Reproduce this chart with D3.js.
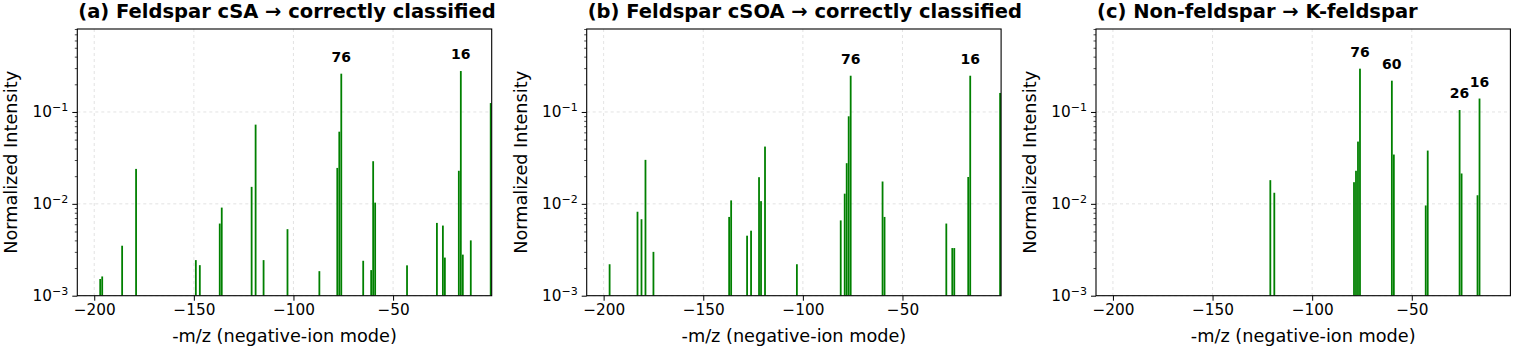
<!DOCTYPE html>
<html><head><meta charset="utf-8">
<script src="https://cdn.jsdelivr.net/npm/d3@7"></script>
<style>body{margin:0;background:#fff}svg{display:block}text{font-family:"DejaVu Sans",sans-serif}</style>
</head><body><svg id="c" width="1514" height="351"></svg>
<script>
// ---- data (x = -m/z, y = normalized intensity) ----
const titles = ["(a) Feldspar cSA \u2192 correctly classified", "(b) Feldspar cSOA \u2192 correctly classified", "(c) Non-feldspar \u2192 K-feldspar"];
const mzA = [-197,-196,-186,-179,-149,-147,-137,-136,-121,-119,-115,-103,-87,-78,-77,-76,-65,-61,-60,-59,-43,-28,-25,-24,-17,-16,-15,-11,-1];
const intA = [0.00152,0.00162,0.0035,0.024,0.00244,0.00215,0.0061,0.0091,0.0153,0.0728,0.00244,0.0053,0.00185,0.0246,0.061,0.261,0.0024,0.0019,0.0291,0.0103,0.00214,0.0062,0.0058,0.0026,0.0229,0.279,0.0028,0.004,0.125];
const mzB = [-197,-183,-181,-179,-175,-137,-136,-128,-126,-122,-121,-119,-103,-81,-79,-78,-77,-76,-60,-59,-28,-25,-24,-17,-16,-1];
const intB = [0.0022,0.0082,0.0068,0.0301,0.003,0.0072,0.0109,0.0045,0.0051,0.0195,0.0107,0.042,0.0022,0.0066,0.0129,0.0277,0.0897,0.248,0.0175,0.0072,0.0061,0.0033,0.0033,0.0196,0.248,0.161];
const mzC = [-121,-119,-79,-78,-77,-76,-60,-59,-43,-42,-26,-25,-17,-16];
const intC = [0.0181,0.0132,0.0172,0.0229,0.0476,0.296,0.219,0.0344,0.0096,0.038,0.105,0.0214,0.0124,0.140];
const peaksA = [-76,-16];
const peaksB = [-76,-16];
const peaksC = [-76,-60,-26,-16];
const xTicks = [-200,-150,-100,-50];
const yTicks = [1e-3,1e-2,1e-1];
const yTickExp = ["\u22123","\u22122","\u22121"];
const xDomain = [-208.5,-0.5];
const yDomain = [1e-3,0.8];

const panels = [
  {title:titles[0], mz:mzA, val:intA, peaks:peaksA},
  {title:titles[1], mz:mzB, val:intB, peaks:peaksB},
  {title:titles[2], mz:mzC, val:intC, peaks:peaksC}
];

const svg = d3.select("#c");
const lefts = [77.3, 586.7, 1096];
const pw = 414.4, topY = 29, botY = 295.7;
const barColor = "#008000";

panels.forEach((p,i)=>{
  const L = lefts[i];
  const x = d3.scaleLinear().domain(xDomain).range([L, L+pw]);
  const y = d3.scaleLog().domain(yDomain).range([botY, topY]);
  const g = svg.append("g");
  const clipId = "clip"+i;
  svg.append("clipPath").attr("id",clipId).append("rect").attr("x",L).attr("y",topY).attr("width",pw).attr("height",botY-topY);

  // grid
  const grid = g.append("g").attr("stroke","#b0b0b0").attr("stroke-opacity",0.45).attr("stroke-width",0.8).attr("stroke-dasharray","3,3");
  xTicks.forEach(t=>grid.append("line").attr("x1",x(t)).attr("x2",x(t)).attr("y1",topY).attr("y2",botY));
  yTicks.forEach(t=>grid.append("line").attr("x1",L).attr("x2",L+pw).attr("y1",y(t)).attr("y2",y(t)));

  // bars
  const bars = g.append("g").attr("clip-path",`url(#${clipId})`);
  bars.selectAll("rect").data(p.mz.map((m,k)=>({m, v:p.val[k]}))).join("rect")
    .attr("x", d=>x(d.m-0.45)).attr("width", d=>x(d.m+0.45)-x(d.m-0.45))
    .attr("y", d=>y(d.v)).attr("height", d=>y(yDomain[0])-y(d.v))
    .attr("fill", barColor);

  // peak labels
  p.peaks.forEach(m=>{
    const k = p.mz.indexOf(m);
    g.append("text").attr("x",x(m)).attr("y",y(p.val[k]*1.34))
      .attr("text-anchor","middle").attr("font-weight","bold").attr("font-size",14).text(String(-m));
  });

  // x axis
  const xa = g.append("g").attr("transform",`translate(0,${botY})`)
    .call(d3.axisBottom(x).tickValues(xTicks).tickSize(5).tickPadding(3.5).tickFormat(d=>d3.format("d")(d).replace("-","\u2212")));
  xa.select(".domain").remove();
  xa.selectAll("text").attr("font-size",15.3).attr("fill","#000").attr("font-family","DejaVu Sans");
  xa.selectAll("line").attr("stroke","#000");

  // y axis major
  const ya = g.append("g").attr("transform",`translate(${L},0)`)
    .call(d3.axisLeft(y).tickValues(yTicks).tickSize(5).tickFormat(""));
  ya.select(".domain").remove();
  ya.selectAll("line").attr("stroke","#000");
  // minor ticks
  const minors = [];
  [1e-3,1e-2,1e-1].forEach(d=>{for(let j=2;j<=9;j++){const v=d*j; if(v<=yDomain[1]) minors.push(v);}});
  const ym = g.append("g").attr("transform",`translate(${L},0)`)
    .call(d3.axisLeft(y).tickValues(minors).tickSize(2.5).tickFormat(""));
  ym.select(".domain").remove();
  ym.selectAll("line").attr("stroke","#000").attr("stroke-width",0.7);
  // y labels
  yTicks.forEach((t,k)=>{
    const tx = g.append("text").attr("x",L-9).attr("y",y(t)+5.5).attr("text-anchor","end").attr("font-size",15.3).attr("fill","#000");
    tx.append("tspan").text("10");
    tx.append("tspan").attr("dy",-6.5).attr("font-size",11).text(yTickExp[k]);
  });

  // frame
  g.append("rect").attr("x",L).attr("y",topY).attr("width",pw).attr("height",botY-topY)
    .attr("fill","none").attr("stroke","#000").attr("stroke-width",1.1);

  // title (left aligned)
  svg.append("text").attr("x",L+1).attr("y",18).attr("text-anchor","start")
    .attr("font-weight","bold").attr("font-size",19.5).text(p.title);
  // x label
  svg.append("text").attr("x",L+pw/2).attr("y",342).attr("text-anchor","middle")
    .attr("font-size",17.7).text("-m/z (negative-ion mode)");
  // y label
  svg.append("text").attr("transform",`translate(${L-60},${(topY+botY)/2}) rotate(-90)`)
    .attr("text-anchor","middle").attr("font-size",17.7).text("Normalized Intensity");
});
</script></body></html>
